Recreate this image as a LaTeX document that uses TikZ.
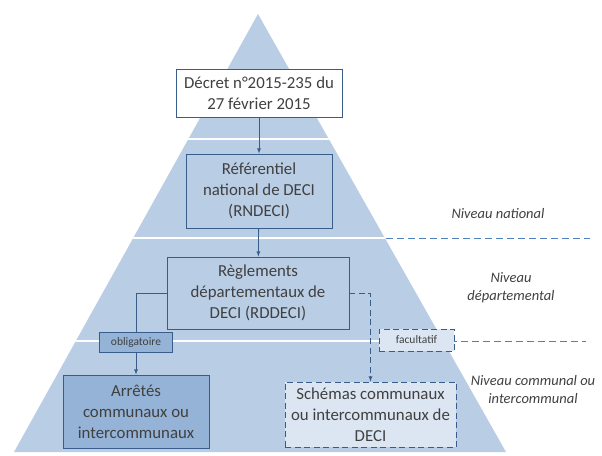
\documentclass[tikz,border=0pt]{standalone}
\usepackage{fontspec}
\setmainfont{Carlito}
\usepackage{xcolor}
\usetikzlibrary{arrows.meta, positioning}
\definecolor{pyramid}{HTML}{B9CDE5}
\definecolor{boxline}{HTML}{385D8A}
\definecolor{darkfill}{HTML}{95B3D7}
\definecolor{lightfill}{HTML}{DCE6F2}
\definecolor{levelline}{HTML}{4F81BD}
\definecolor{txt}{HTML}{404040}
\tikzset{
  textebox/.style={draw=boxline, thick, align=center, text=txt, inner sep=2pt,
    font=\fontsize{16.8}{21}\selectfont},
  etiquette/.style={draw=boxline, thick, text=txt, inner sep=2pt,
    font=\fontsize{11.5}{13}\selectfont},
  niveau/.style={align=center, text=txt, font=\fontsize{14.5}{18}\selectfont\itshape},
  tirets/.style={dash pattern=on 6pt off 3.5pt},
}

\begin{document}
\begin{tikzpicture}[x=1pt, y=-1pt]
  \useasboundingbox (0,0) rectangle (602,455);
  \coordinate (sommet) at (258,14);
  \coordinate (basegauche) at (14,452);
  \coordinate (basedroite) at (506,452);
  \fill[pyramid] (sommet) -- (basegauche) -- (basedroite) -- cycle;
  \begin{scope}
    \clip (sommet) -- (basegauche) -- (basedroite) -- cycle;
    \foreach \y in {139, 238, 341}
      \draw[white, line width=1.8pt] (0,\y) -- (602,\y);
  \end{scope}
  \draw[levelline, thick, dash pattern=on 7pt off 4pt] (386,238) -- (590,238);
  \draw[levelline, thick, dash pattern=on 7pt off 4pt] (450,341) -- (586,341);

  \node[textebox, fill=white, minimum width=166, minimum height=48] (decret) at (259,93)
    {Décret n°2015-235 du\\27 février 2015};
  \node[textebox, minimum width=146, minimum height=74] (rndeci) at (259,191)
    {Référentiel\\national de DECI\\(RNDECI)};
  \node[textebox, minimum width=182, minimum height=72] (rddeci) at (258,293)
    {Règlements\\départementaux de\\DECI (RDDECI)};
  \node[textebox, fill=darkfill, minimum width=146, minimum height=73] (arretes) at (136,411.5)
    {Arrêtés\\communaux ou\\intercommunaux};
  \node[textebox, tirets, fill=lightfill, minimum width=171, minimum height=65] (schemas) at (370.5,414.5)
    {Schémas communaux\\ou intercommunaux de\\DECI};

  \draw[boxline, thick, -latex] (decret) -- (rndeci);
  \draw[boxline, thick, -latex] (rndeci) -- (rddeci);
  \draw[boxline, thick, -latex] (rddeci.west) -| (arretes.north);
  \draw[boxline, thick, tirets, -latex] (rddeci.east) -| (schemas.north);

  \node[etiquette, fill=darkfill, minimum width=73, minimum height=20] (oblig) at (136,342) {obligatoire};
  \node[etiquette, tirets, fill=lightfill, minimum width=75, minimum height=22] (facult) at (416.5,340) {facultatif};

  \node[niveau] (national) at (498,214) {Niveau national};
  \node[niveau] (departemental) at (511,288) {Niveau\\départemental};
  \node[niveau] (communal) at (533,390) {Niveau communal ou\\intercommunal};
\end{tikzpicture}
\end{document}
